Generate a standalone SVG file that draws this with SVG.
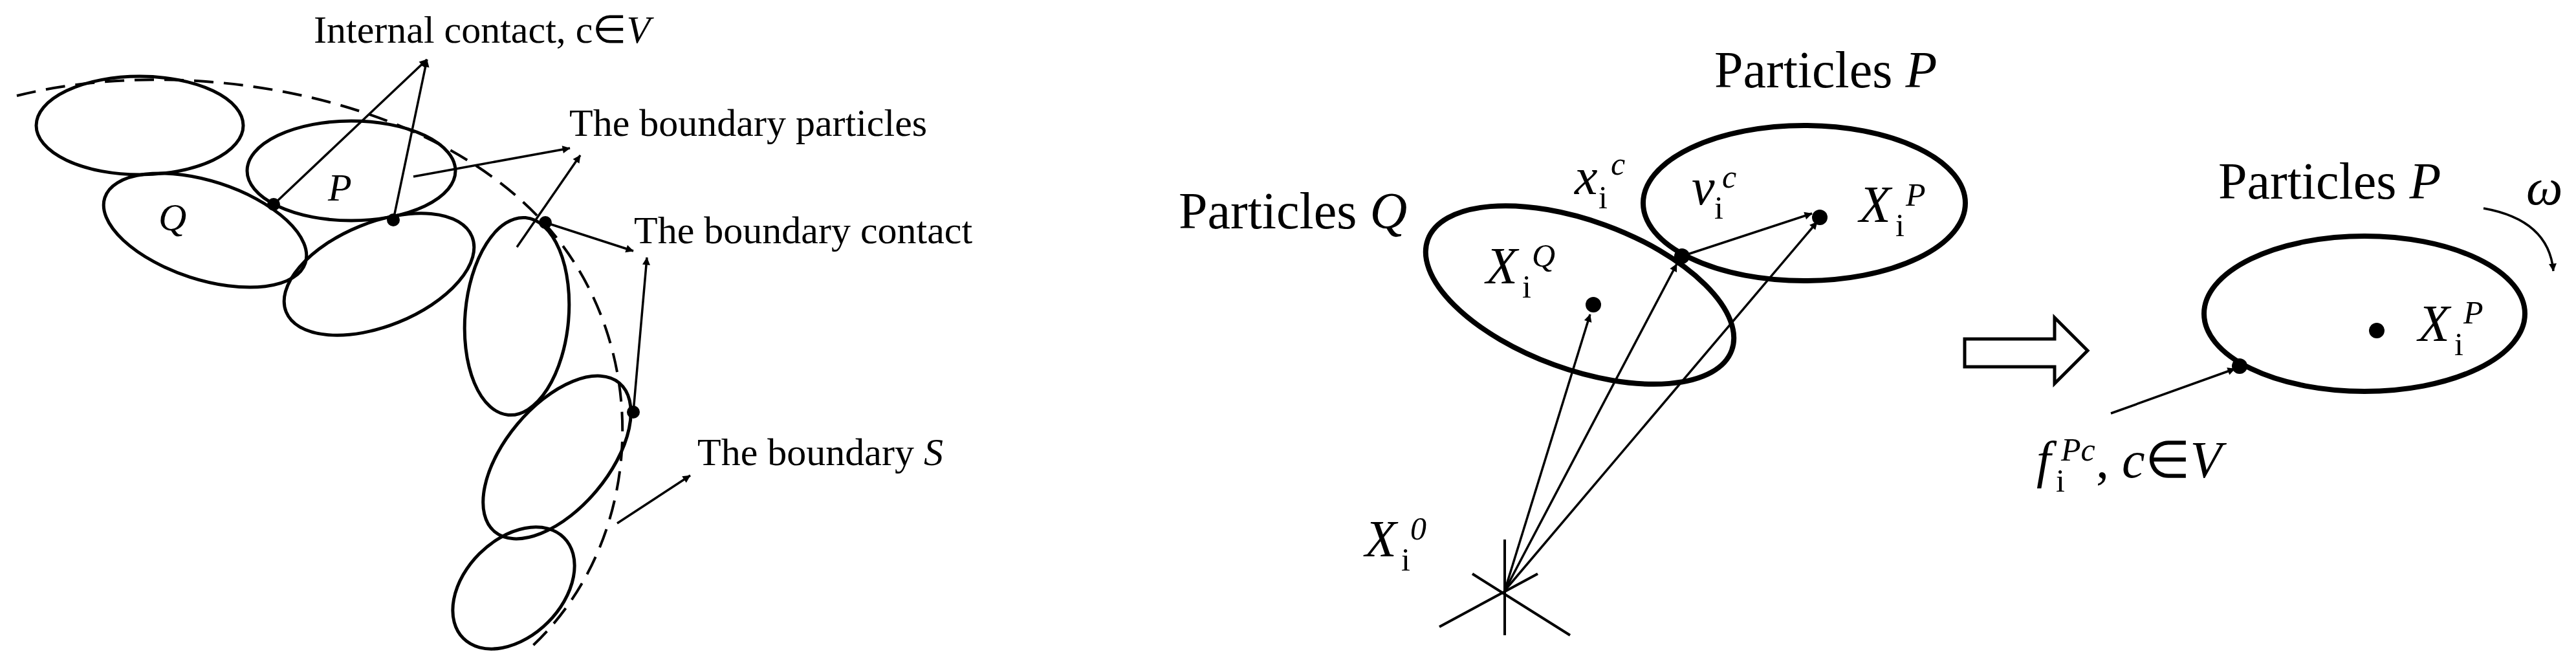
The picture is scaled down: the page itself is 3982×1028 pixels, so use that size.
<svg xmlns="http://www.w3.org/2000/svg" width="3982" height="1028" viewBox="0 0 3982 1028">
<style>
text{font-family:"Liberation Serif","Times New Roman",serif;fill:#000}
.l{font-size:60px}.r{font-size:80px}.it{font-style:italic}.s{font-size:50px}
.e{fill:none;stroke:#000;stroke-width:5}
.E{fill:none;stroke:#000;stroke-width:8}
.c{stroke:#000;stroke-width:3.5;fill:none}
.dot{fill:#000}
</style>
<defs>
<marker id="a" viewBox="0 0 10 10" refX="9" refY="5" markerWidth="6" markerHeight="6" orient="auto" markerUnits="userSpaceOnUse" style="overflow:visible">
<path d="M0,0 L10,5 L0,10 z" fill="#000" transform="scale(2)translate(-5,-2.5)"/>
</marker>
</defs>
<g id="boundary"><path d="M26,148 C300,80 700,150 870,380 C1010,570 990,850 814,1007" fill="none" stroke="#000" stroke-width="4" stroke-dasharray="30,16"/></g>
<g id="p1"><ellipse class="e" cx="216" cy="194" rx="160" ry="76"/></g>
<g id="pP"><ellipse class="e" cx="543" cy="264" rx="161" ry="77"/><text class="l it" x="507" y="310">P</text></g>
<g id="pQ"><ellipse class="e" cx="317" cy="356" rx="163" ry="76" transform="rotate(18 317 356)"/><text class="l it" x="245" y="356">Q</text></g>
<g id="p4"><ellipse class="e" cx="586" cy="424" rx="155" ry="80" transform="rotate(-22 586 424)"/></g>
<g id="p5"><ellipse class="e" cx="799" cy="489" rx="80" ry="153" transform="rotate(5 799 489)"/></g>
<g id="p6"><ellipse class="e" cx="861" cy="707" rx="150" ry="80" transform="rotate(-50 861 707)"/></g>
<g id="p7"><ellipse class="e" cx="794" cy="909" rx="110" ry="75" transform="rotate(-45 794 909)"/></g>
<g id="contacts"><circle class="dot" cx="423" cy="316" r="10"/><circle class="dot" cx="608" cy="340" r="10"/><circle class="dot" cx="843" cy="344" r="10"/><circle class="dot" cx="979" cy="637" r="10"/></g>
<g id="left-labels">
<text class="l" x="485" y="66">Internal contact, c∈<tspan class="it">V</tspan></text>
<text class="l" x="880" y="210">The boundary particles</text>
<text class="l" x="980" y="376">The boundary contact</text>
<text class="l" x="1078" y="719">The boundary <tspan class="it">S</tspan></text>
</g>
<g id="rQ"><ellipse class="E" cx="2442" cy="456" rx="250" ry="115" transform="rotate(20 2442 456)"/><text class="r" x="1822" y="353">Particles <tspan class="it">Q</tspan></text></g>
<g id="rP"><ellipse class="E" cx="2789" cy="314" rx="249" ry="120"/><text class="r" x="2650" y="135">Particles <tspan class="it">P</tspan></text></g>
<g id="rP2"><ellipse class="E" cx="3655" cy="485" rx="248" ry="120"/><text class="r" x="3429" y="307">Particles <tspan class="it">P</tspan></text></g>
<g id="rdots"><circle class="dot" cx="2600" cy="396" r="12"/><circle class="dot" cx="2813" cy="336" r="12"/><circle class="dot" cx="2463" cy="471" r="12"/><circle class="dot" cx="3674" cy="511" r="12"/><circle class="dot" cx="3462" cy="566" r="12"/></g>
<g id="origin" stroke="#000" stroke-width="4"><line x1="2326" y1="834" x2="2326" y2="982"/><line x1="2225" y1="969" x2="2377" y2="887"/><line x1="2427" y1="982" x2="2276" y2="887"/></g>
<g id="hollow"><path d="M3037,524 L3176,524 L3176,491 L3227,542 L3176,593 L3176,567 L3037,567 z" fill="#fff" stroke="#000" stroke-width="5"/></g>
<g id="right-labels">
<text class="r it" x="2434" y="300">x</text><text class="s" x="2471" y="322">i</text><text class="s it" x="2490" y="270">c</text>
<text class="r it" x="2615" y="316">v</text><text class="s" x="2650" y="338">i</text><text class="s it" x="2662" y="290">c</text>
<text class="r it" x="2874" y="343">X</text><text class="s" x="2930" y="365">i</text><text class="s it" x="2946" y="318">P</text>
<text class="r it" x="2297" y="438">X</text><text class="s" x="2353" y="460">i</text><text class="s it" x="2368" y="412">Q</text>
<text class="r it" x="2110" y="860">X</text><text class="s" x="2166" y="882">i</text><text class="s it" x="2180" y="834">0</text>
<text class="r it" x="3738" y="527">X</text><text class="s" x="3794" y="549">i</text><text class="s it" x="3808" y="500">P</text>
<text class="r it" x="3148" y="738">f</text><text class="s" x="3178" y="760">i</text><text class="s it" x="3186" y="712">Pc</text><text class="r" x="3240" y="738">, <tspan class="it">c</tspan>∈<tspan class="it">V</tspan></text>
<text class="r it" x="3905" y="316">ω</text>
</g>
<g id="connectors">
<line class="c" x1="423" y1="316" x2="660" y2="92" marker-end="url(#a)"/>
<line class="c" x1="608" y1="340" x2="660" y2="92" marker-end="url(#a)"/>
<line class="c" x1="639" y1="273" x2="881" y2="229" marker-end="url(#a)"/>
<line class="c" x1="799" y1="382" x2="897" y2="240" marker-end="url(#a)"/>
<line class="c" x1="843" y1="344" x2="979" y2="388" marker-end="url(#a)"/>
<line class="c" x1="979" y1="637" x2="1000" y2="398" marker-end="url(#a)"/>
<line class="c" x1="954" y1="809" x2="1067" y2="735" marker-end="url(#a)"/>
<line class="c" x1="2326" y1="913" x2="2458" y2="486" marker-end="url(#a)"/>
<line class="c" x1="2326" y1="913" x2="2592" y2="408" marker-end="url(#a)"/>
<line class="c" x1="2326" y1="913" x2="2809" y2="343" marker-end="url(#a)"/>
<line class="c" x1="2600" y1="396" x2="2801" y2="330" marker-end="url(#a)"/>
<line class="c" x1="3263" y1="639" x2="3455" y2="570" marker-end="url(#a)"/>
<path class="c" d="M3839,322 Q3940,340 3947,419" marker-end="url(#a)"/>
</g>
</svg>
